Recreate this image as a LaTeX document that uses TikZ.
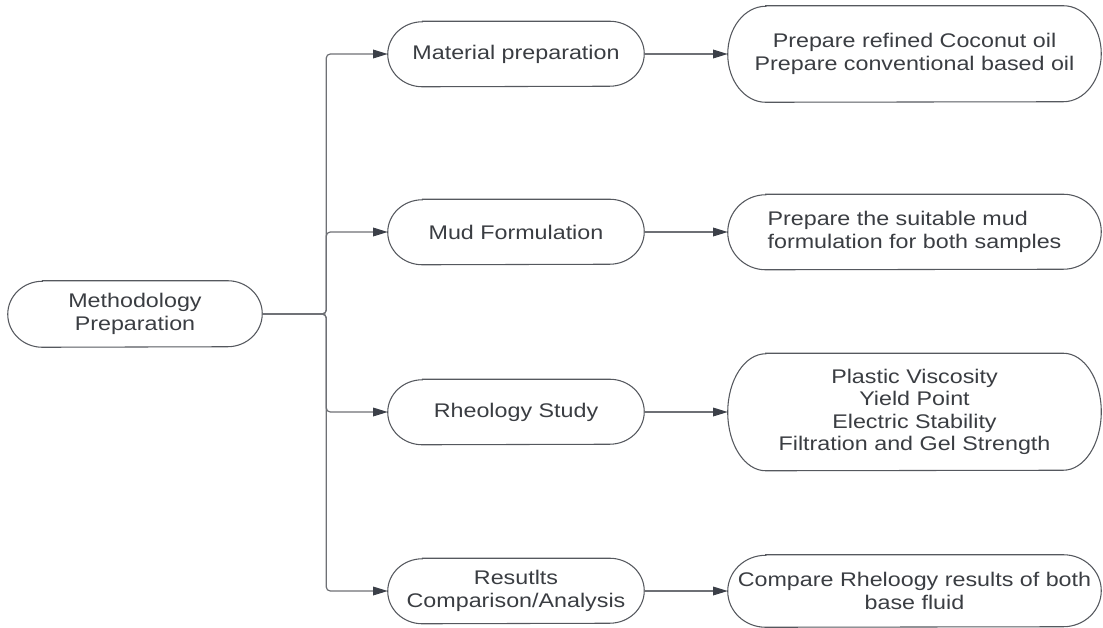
\documentclass[tikz,border=0pt]{standalone}
\usepackage{fontspec}
\setmainfont{Liberation Sans}[FakeStretch=1.18]
\usetikzlibrary{arrows.meta}
\definecolor{txt}{HTML}{3A3D42}
\definecolor{edge}{HTML}{55585E}
\definecolor{conn}{HTML}{6E7075}
\definecolor{head}{HTML}{3B3F48}
\newcommand\stadium[3]{%
  \draw[outline] ([xshift=#2]#1.north west) -- ([xshift=-#2]#1.north east)
    arc[start angle=90,end angle=-90,x radius=#2,y radius=#3]
    -- ([xshift=#2]#1.south west)
    arc[start angle=270,end angle=90,x radius=#2,y radius=#3] -- cycle;}
\begin{document}
\begin{tikzpicture}[x=0.75pt,y=-0.75pt,
  box/.style={inner sep=0pt, text=txt, font=\fontsize{14.8pt}{16.8pt}\selectfont, align=center},
  leftbox/.style={box, minimum width=192pt, minimum height=48.75pt},
  rightbox/.style={box, minimum width=279.75pt},
  outline/.style={draw=edge, line width=0.8pt},
  link/.style={draw=conn, line width=0.9pt, rounded corners=3pt,
    -{Triangle[length=11pt,width=6.5pt,color=head]}}]
\useasboundingbox (0,0) rectangle (1103,628);
% nodes
\node[box, minimum width=190.5pt, minimum height=49.5pt] (meth) at (135,314) {Methodology\\Preparation};
\node[leftbox] (mat) at (516,54) {Material preparation};
\node[leftbox] (mud) at (516,232) {Mud Formulation};
\node[leftbox] (rheo) at (516,412) {Rheology Study};
\node[leftbox] (res) at (516,591) {Resutlts\\Comparison/Analysis};
\node[rightbox, minimum height=72pt] (r1) at (914.5,54) {Prepare refined Coconut oil\\Prepare conventional based oil};
\node[rightbox, minimum height=56.25pt, align=left] (r2) at (914.5,232) {Prepare the suitable mud\\formulation for both samples};
\node[rightbox, minimum height=87.75pt] (r3) at (914.5,412) {Plastic Viscosity\\Yield Point\\Electric Stability\\Filtration and Gel Strength};
\node[rightbox, minimum height=54pt] (r4) at (914.5,591) {Compare Rheloogy results of both\\base fluid};
% outlines
\stadium{meth}{26pt}{24.75pt}
\stadium{mat}{26pt}{24.375pt}
\stadium{mud}{26pt}{24.375pt}
\stadium{rheo}{26pt}{24.375pt}
\stadium{res}{26pt}{24.375pt}
\stadium{r1}{28.5pt}{36pt}
\stadium{r2}{28.5pt}{28.125pt}
\stadium{r3}{28.5pt}{43.875pt}
\stadium{r4}{28.5pt}{27pt}
% connectors
\draw[link] (meth.east) -- ++(48pt,0) |- (mat.west);
\draw[link] (meth.east) -- ++(48pt,0) |- (mud.west);
\draw[link] (meth.east) -- ++(48pt,0) |- (rheo.west);
\draw[link] (meth.east) -- ++(48pt,0) |- (res.west);
\draw[link] (mat.east) -- (r1.west);
\draw[link] (mud.east) -- (r2.west);
\draw[link] (rheo.east) -- (r3.west);
\draw[link] (res.east) -- (r4.west);
\end{tikzpicture}
\end{document}
